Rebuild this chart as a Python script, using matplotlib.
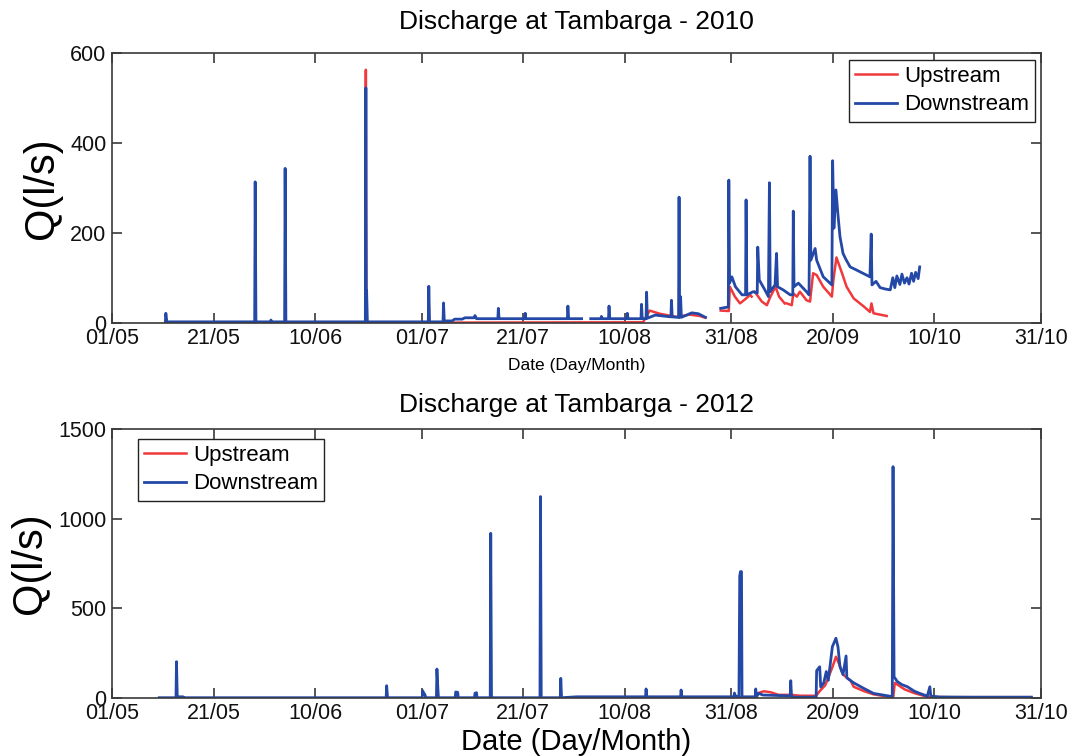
import numpy as np
import matplotlib
matplotlib.use("Agg")
import matplotlib.pyplot as plt

plt.rcParams['font.family'] = ['Liberation Sans', 'DejaVu Sans']

nan = np.nan

# x axis: days since 1 May
tick_days = [0, 20, 40, 61, 81, 101, 122, 142, 162, 183]
tick_labels = ['01/05', '21/05', '10/06', '01/07', '21/07', '10/08', '31/08', '20/09', '10/10', '31/10']

# ---------------- 2010 ----------------
down2010_days = [10.5, 10.6, 10.8, 28.1, 28.2, 28.35, 31.2, 31.3, 31.5, 34.0, 34.1, 34.25,
                 49.9, 50.0, 50.1, 50.15, 50.3, 62.3, 62.4, 62.55, 65.2, 65.3, 65.45,
                 67.0, 67.5, 69.0, 69.5, 71.3, 71.5, 71.8, 76.0, 76.1, 76.25, 81.3, 81.4, 81.5,
                 89.7, 89.8, 89.95, 92.5, 92.6, 94.3, 96.3, 96.4, 96.6, 97.8, 97.9, 98.05,
                 101.4, 101.5, 101.65, 104.2, 104.3, 104.45, 105.2, 105.3, 105.45,
                 107.0, 108.5, 110.1, 110.2, 110.35, 111.6, 111.7, 111.8, 112.0, 112.15,
                 114.2, 115.5, 116.9, 117.0,
                 119.9, 121.4, 121.5, 121.65, 122.1, 122.8, 124.1, 124.8, 124.9, 125.05,
                 126.3, 127.1, 127.2, 127.5, 128.6, 129.3, 129.5, 129.65, 130.6, 130.9, 131.1,
                 132.2, 133.6, 134.1, 134.2, 134.35, 135.2, 136.8, 137.3, 137.5, 137.65,
                 138.5, 138.8, 140.1, 141.8, 141.95, 142.2, 142.6, 143.0, 143.4, 144.0,
                 144.6, 145.4, 146.5, 147.9, 148.6, 149.3, 149.55, 149.7, 150.5, 151.3,
                 152.3, 153.3, 153.8, 154.2, 154.6, 155.2, 155.6, 156.1, 156.6, 157.0,
                 157.5, 157.9, 158.3, 158.8, 159.1]
down2010_vals = [0, 21, 2, 2, 313, 2, 2, 6, 2, 2, 343, 2,
                 2, 522, 2, 72, 2, 2, 81, 2, 2, 44, 4,
                 4, 8, 8, 11, 11, 16, 9, 9, 32, 9, 9, 21, 9,
                 9, 37, 9, 9, nan, 9, 9, 14, 9, 9, 37, 9,
                 9, 21, 9, 9, 41, 9, 9, 68, 10,
                 17, 15, 13, 50, 13, 12, 279, 12, 58, 12,
                 22, 20, 12, nan,
                 32, 35, 317, 88, 102, 80, 62, 62, 273, 62,
                 69, 66, 168, 95, 73, 58, 311, 69, 84, 154, 80,
                 73, 62, 62, 248, 80, 88, 69, 62, 370, 139,
                 165, 139, 102, 84, 360, 210, 295, 240, 191, 154,
                 140, 124, 118, 110, 106, 102, 197, 84, 92, 78,
                 75, 73, 100, 78, 104, 85, 108, 88, 100, 86,
                 110, 92, 112, 98, 124]

up2010_days = [10.5, 49.9, 50.0, 50.1, 104.6, 105.9, 107.9, 111.2, 113.8, 115.8, 116.9, 117.0,
               119.9, 121.5, 121.7, 122.7, 123.7, 124.7, 125.7, 126.0, 126.2,
               126.6, 128.0, 129.0, 129.7, 130.7, 131.4, 132.5, 132.7,
               132.9, 133.9, 134.2, 134.9, 135.5, 136.8, 137.5, 138.1, 138.8, 140.1,
               141.8, 142.1, 142.7, 143.8, 144.7, 146.1, 148.1, 149.3, 149.6, 150.0, 152.6]
up2010_vals = [0, 0, 562, 0, 1, 27, 20, 13, 18, 15, 11, nan,
               27, 26, 80, 58, 43, 52, 62, 58, nan,
               69, 47, 39, 58, 80, 58, 43, nan,
               43, 39, 65, 58, 69, 50, 47, 110, 106, 80,
               58, 95, 145, 110, 80, 54, 36, 24, 43, 21, 15]

# ---------------- 2012 ----------------
down2012_days = [9.3, 12.6, 12.7, 12.85, 14.0, 14.1, 54.0, 54.1, 54.25, 54.4,
                 61.1, 61.2, 61.4, 61.6, 61.8, 63.9, 64.0, 64.2, 64.3,
                 67.6, 67.7, 68.1, 68.2, 71.4, 71.5, 71.8, 71.9,
                 74.5, 74.6, 74.75, 74.9, 84.3, 84.4, 84.55, 88.3, 88.4, 88.55,
                 91.5, 105.1, 105.2, 105.35, 112.0, 112.1, 112.25, 122.5, 122.6, 122.8,
                 123.5, 123.65, 123.8, 124.0, 124.1, 126.7, 126.8, 126.95, 127.3, 128.2,
                 133.6, 133.7, 133.85, 134.0, 138.7, 138.8, 139.4, 139.6, 140.2, 140.7,
                 141.1, 141.9, 142.6, 143.0, 143.4, 144.0, 144.6, 144.75, 146.1, 148.1,
                 150.0, 152.7, 153.7, 153.85, 154.05, 154.7, 155.6, 156.7, 158.0, 159.3,
                 160.6, 161.1, 161.3, 163.0, 170.0, 181.1]
down2012_vals = [0, 0, 201, 5, 5, 0, 0, 67, 8, 0,
                 0, 39, 25, 20, 0, 0, 160, 45, 0,
                 0, 32, 30, 0, 0, 25, 28, 0,
                 0, 918, 5, 0, 0, 1123, 0, 0, 108, 0,
                 5, 5, 49, 5, 5, 43, 5, 5, 26, 10,
                 5, 680, 704, 704, 5, 5, 49, 5, 25, 15,
                 10, 95, 10, 3, 3, 151, 173, 60, 83, 146,
                 97, 285, 332, 285, 173, 129, 233, 111, 83, 52,
                 24, 11, 6, 1290, 117, 90, 73, 61, 37, 22,
                 9, 61, 9, 4, 3, 3]

up2012_days = [91.5, 126.9, 127.5, 128.4, 129.8, 131.3, 133.8, 135.5, 138.7, 139.5, 140.5,
               141.9, 142.6, 143.2, 144.0, 145.5, 146.1, 148.1, 150.0, 152.7, 153.9,
               154.2, 156.1, 158.0, 160.6, 165.0, 181.1]
up2012_vals = [3, 3, 28, 36, 30, 16, 16, 11, 11, 40, 70,
               170, 229, 190, 129, 95, 61, 37, 19, 6, 5,
               83, 47, 26, 5, 3, 3]

RED = '#f0393c'
BLUE = '#2448a6'
SPINE = '#3a3a3a'

fig = plt.figure(figsize=(10.72, 7.56), dpi=100)


def style_axes(ax, ylim, yticks):
    ax.set_xlim(0, 183)
    ax.set_ylim(*ylim)
    ax.set_xticks(tick_days)
    ax.set_xticklabels(tick_labels)
    ax.set_yticks(yticks)
    ax.tick_params(direction='in', length=7, width=1.2, color=SPINE, labelsize=15.5,
                   top=True, right=True, labelcolor='#111111')
    ax.tick_params(axis='x', pad=4)
    ax.tick_params(axis='y', pad=4)
    for s in ax.spines.values():
        s.set_color(SPINE)
        s.set_linewidth(1.2)


ax1 = fig.add_axes([0.1045, 0.5731, 0.8666, 0.3572])
ax1.plot(up2010_days, up2010_vals, color=RED, lw=1.8, label='Upstream')
ax1.plot(down2010_days, down2010_vals, color=BLUE, lw=2.0, label='Downstream')
style_axes(ax1, (0, 600), [0, 200, 400, 600])
ax1.set_title('Discharge at Tambarga - 2010', fontsize=19, pad=17)
ax1.set_ylabel('Q(l/s)', fontsize=30, labelpad=6)
ax1.set_xlabel('Date (Day/Month)', fontsize=12.5, labelpad=6)
leg1 = ax1.legend(loc='upper right', bbox_to_anchor=(0.9935, 0.973), borderaxespad=0,
                  fontsize=16, handlelength=1.9, handletextpad=0.3, labelspacing=0.32,
                  borderpad=0.28, fancybox=False, framealpha=1)
leg1.get_frame().set_edgecolor('#222222')
leg1.get_frame().set_linewidth(1.0)

ax2 = fig.add_axes([0.1045, 0.0771, 0.8666, 0.3554])
ax2.plot(up2012_days, up2012_vals, color=RED, lw=1.8, label='Upstream')
ax2.plot(down2012_days, down2012_vals, color=BLUE, lw=2.0, label='Downstream')
style_axes(ax2, (0, 1500), [0, 500, 1000, 1500])
ax2.set_title('Discharge at Tambarga - 2012', fontsize=19, pad=12)
ax2.set_ylabel('Q(l/s)', fontsize=30, labelpad=6)
ax2.set_xlabel('Date (Day/Month)', fontsize=21, labelpad=3)
leg2 = ax2.legend(loc='upper left', bbox_to_anchor=(0.0277, 0.963), borderaxespad=0,
                  fontsize=16, handlelength=1.9, handletextpad=0.3, labelspacing=0.32,
                  borderpad=0.28, fancybox=False, framealpha=1)
leg2.get_frame().set_edgecolor('#222222')
leg2.get_frame().set_linewidth(1.0)

fig.savefig('out.png', dpi=100)
